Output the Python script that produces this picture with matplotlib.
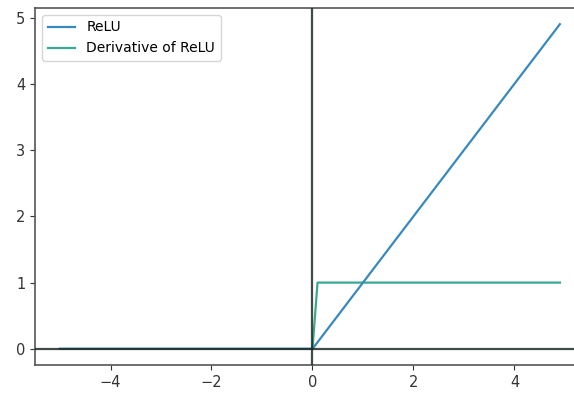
import numpy as np
import matplotlib.pyplot as plt

# sampled points of the ReLU curve and its derivative
x_relu = [-5.0, 0.0, 4.9]
y_relu = [0.0, 0.0, 4.9]
x_deriv = [-5.0, 0.0, 0.1, 4.9]
y_deriv = [0.0, 0.0, 1.0, 1.0]

fig = plt.figure(figsize=(5.74, 3.96), dpi=100)
ax = fig.add_axes([0.061, 0.078, 0.958, 0.902])

ax.plot(x_relu, y_relu, color='#3a89bd', linewidth=1.6, label='ReLU', zorder=3)
ax.plot(x_deriv, y_deriv, color='#38a98e', linewidth=1.6, label='Derivative of ReLU', zorder=2)

# coordinate axes through the origin, drawn over the curves
ax.axhline(0, color='#1e2a26', linewidth=1.6, alpha=0.85, zorder=4)
ax.axvline(0, color='#1e2a26', linewidth=1.6, alpha=0.85, zorder=4)

ax.set_xlim(-5.495, 5.395)
ax.set_ylim(-0.245, 5.145)
ax.set_xticks([-4, -2, 0, 2, 4])
ax.set_yticks([0, 1, 2, 3, 4, 5])
ax.tick_params(labelsize=10.5, colors='#333333')
for s in ax.spines.values():
    s.set_color('#555555')
    s.set_linewidth(1.2)

ax.legend(loc='upper left', fontsize=10)

fig.savefig('out.png', dpi=100)
